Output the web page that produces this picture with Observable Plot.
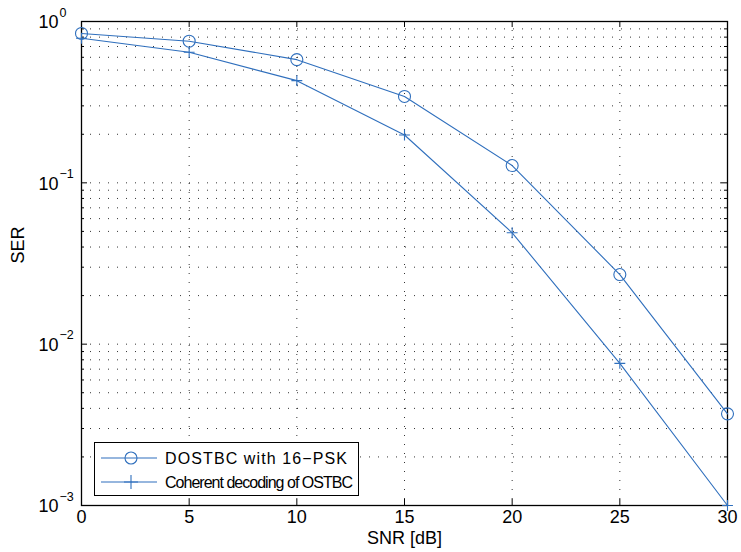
<!DOCTYPE html>
<html><head><meta charset="utf-8">
<script src="https://cdn.jsdelivr.net/npm/d3@7"></script>
<script src="https://cdn.jsdelivr.net/npm/@observablehq/plot@0.6"></script>
<style>
body{margin:0;background:#fff;}
#wrap{position:relative;width:741px;height:552px;font-family:"Liberation Sans",Arial,sans-serif;}
#legend{position:absolute;left:94px;top:442px;width:265px;height:54px;border:1.2px solid #000;background:#fff;box-sizing:border-box;font-size:16px;}
#legend svg{position:absolute;left:0;top:0;}
</style></head><body><div id="wrap"></div>
<script>
const snr = [0, 5, 10, 15, 20, 25, 30];
const serDOSTBC = [0.843, 0.755, 0.58, 0.343, 0.128, 0.027, 0.0037];
const serCoherent = [0.787, 0.645, 0.43, 0.198, 0.049, 0.0076, 0.001];
const seriesNames = ["DOSTBC with 16\u2212PSK", "Coherent decoding of OSTBC"];
const xTicks = [0, 5, 10, 15, 20, 25, 30];
const xGrid = [5, 10, 15, 20, 25];
const yDecades = [1e-3, 1e-2, 1e-1, 1];
const yExponents = ["\u22123", "\u22122", "\u22121", "0"];
const yMultipliers = [2, 3, 4, 5, 6, 7, 8, 9];
const xLabel = "SNR [dB]";
const yLabel = "SER";

const W = 741, H = 552, mL = 81, mR = 14, mT = 21, mB = 47;
const fw = W - mL - mR, fh = H - mT - mB;
const blue = "#2f6fbd";
const yMinor = [];
for (const d of yDecades.slice(0, 3)) for (const m of yMultipliers) yMinor.push(+(d * m).toPrecision(3));
const yGrid = yMinor.concat([1e-2, 1e-1]);

const dataA = snr.map((x, i) => ({x, y: serDOSTBC[i]}));
const dataB = snr.map((x, i) => ({x, y: serCoherent[i]}));

const tk = {stroke: "#000", strokeWidth: 1};
const grid = {stroke: "#000", strokeOpacity: 0.8, strokeDasharray: "1,8"};
const chart = Plot.plot({
  width: W, height: H,
  marginLeft: mL, marginRight: mR, marginTop: mT, marginBottom: mB,
  style: {fontFamily: "Liberation Sans, Arial, sans-serif", fontSize: "18px", background: "white", color: "#000", overflow: "visible"},
  x: {domain: [0, 30], axis: null},
  y: {type: "log", domain: [1e-3, 1], axis: null},
  marks: [
    Plot.ruleY(yGrid, {y: d => d, ...grid}),
    Plot.ruleX(xGrid, {x: d => d, ...grid}),
    Plot.tickX(xTicks, {x: d => d, insetTop: fh - 6, ...tk}),
    Plot.tickX(xTicks, {x: d => d, insetBottom: fh - 6, ...tk}),
    Plot.tickY(yDecades, {y: d => d, insetRight: fw - 6, ...tk}),
    Plot.tickY(yDecades, {y: d => d, insetLeft: fw - 6, ...tk}),
    Plot.tickY(yMinor, {y: d => d, insetRight: fw - 3, ...tk}),
    Plot.tickY(yMinor, {y: d => d, insetLeft: fw - 3, ...tk}),
    Plot.frame({stroke: "#000", strokeWidth: 1.3}),
    Plot.text(xTicks, {x: d => d, text: d => String(d), frameAnchor: "bottom", dy: 17, fontSize: 18, fill: "#000"}),
    Plot.text(yDecades, {y: d => d, text: () => "10", frameAnchor: "left", textAnchor: "end", dx: -23, dy: 1, fontSize: 18, fill: "#000"}),
    Plot.text(yDecades, {y: d => d, text: (d, i) => yExponents[i], frameAnchor: "left", textAnchor: "start", dx: -22, dy: -9, fontSize: 12.5, fill: "#000"}),
    Plot.text([xLabel], {text: d => d, frameAnchor: "bottom", dy: 38, fontSize: 18, fill: "#000"}),
    Plot.text([yLabel], {text: d => d, frameAnchor: "left", dx: -63, rotate: -90, fontSize: 18, fill: "#000"}),
    Plot.line(dataA, {x: "x", y: "y", stroke: blue, strokeWidth: 1.1}),
    Plot.line(dataB, {x: "x", y: "y", stroke: blue, strokeWidth: 1.1}),
    Plot.dot(dataA, {x: "x", y: "y", symbol: "circle", r: 6, stroke: blue, fill: "none", strokeWidth: 1.1}),
    Plot.dot(dataB, {x: "x", y: "y", symbol: "plus", r: 3.6, stroke: blue, fill: "none", strokeWidth: 1.1})
  ]
});

const wrap = document.getElementById("wrap");
wrap.appendChild(chart);

const legend = document.createElement("div");
legend.id = "legend";
const rows = [{name: seriesNames[0], sym: "circle", len: 182}, {name: seriesNames[1], sym: "plus", len: 188}];
let svg = `<svg width="265" height="54" xmlns="http://www.w3.org/2000/svg">`;
rows.forEach((r, i) => {
  const cy = 15 + i * 24;
  svg += `<line x1="6" x2="62" y1="${cy}" y2="${cy}" stroke="${blue}" stroke-width="1.1"/>`;
  if (r.sym === "circle") svg += `<circle cx="36" cy="${cy}" r="6" fill="none" stroke="${blue}" stroke-width="1.1"/>`;
  else svg += `<path d="M29,${cy}h14M36,${cy - 7}v14" stroke="${blue}" stroke-width="1.1" fill="none"/>`;
  svg += `<text x="70" y="${cy}" dy="0.35em" font-size="16" textLength="${r.len}" lengthAdjust="spacing" font-family="Liberation Sans, Arial, sans-serif" fill="#000">${r.name}</text>`;
});
svg += `</svg>`;
legend.innerHTML = svg;
wrap.appendChild(legend);
</script>
</body></html>
